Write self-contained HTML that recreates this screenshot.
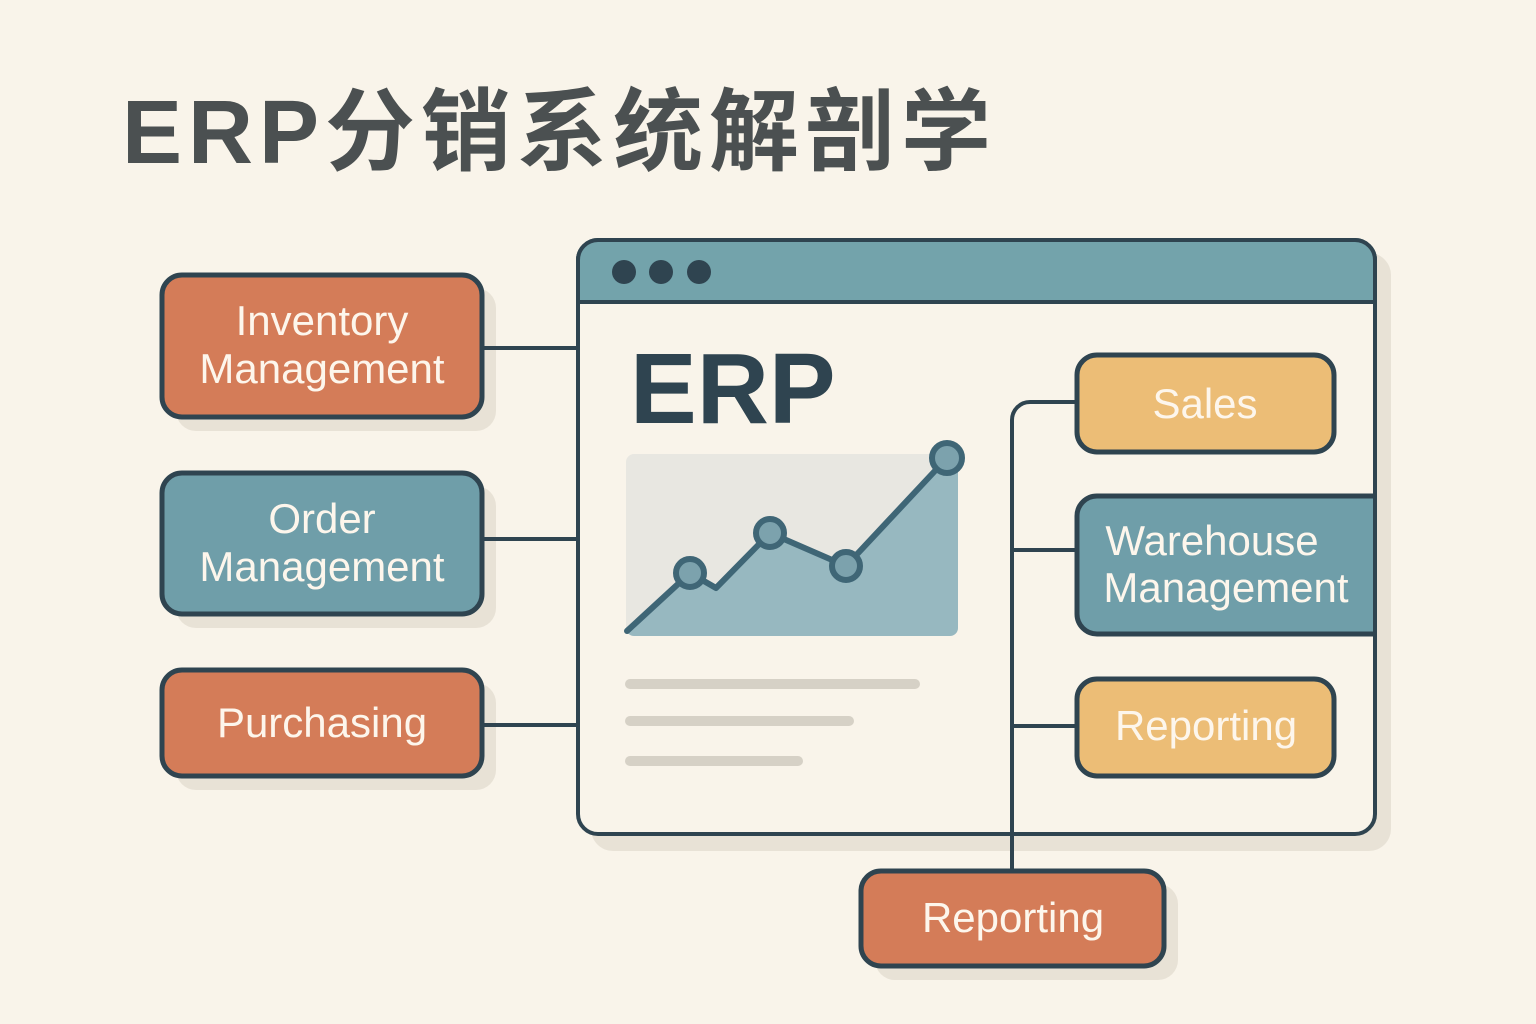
<!DOCTYPE html>
<html><head><meta charset="utf-8"><style>
html,body{margin:0;padding:0;background:#f9f4ea;}
svg{display:block}
text{font-family:"Liberation Sans","Noto Sans CJK SC",sans-serif;}
</style></head><body>
<svg width="1536" height="1024" viewBox="0 0 1536 1024">
<rect width="1536" height="1024" fill="#f9f4ea"/>
<text x="122" y="163" font-size="90" font-weight="bold" fill="#4b5051" letter-spacing="6" style='font-family:"Liberation Sans","Noto Sans CJK SC",sans-serif'>ERP分销系统解剖学</text>
<g fill="#e8e2d6">
<rect x="591" y="253" width="800" height="598" rx="22"/>
<rect x="176" y="288" width="320" height="143" rx="20"/>
<rect x="176" y="486" width="320" height="142" rx="20"/>
<rect x="176" y="683" width="320" height="107" rx="20"/>
<rect x="875" y="884" width="303" height="96" rx="20"/>
</g>
<g stroke="#2f4450" stroke-width="4" fill="none">
<line x1="482" y1="348" x2="577" y2="348"/>
<line x1="482" y1="539" x2="577" y2="539"/>
<line x1="482" y1="725" x2="577" y2="725"/>
</g>
<rect x="578" y="240" width="797" height="594" rx="20" fill="#f9f4ea" stroke="#2f4450" stroke-width="4"/>
<path d="M578 302 V260 a20 20 0 0 1 20 -20 H1355 a20 20 0 0 1 20 20 V302 Z" fill="#73a3ab" stroke="#2f4450" stroke-width="4"/>
<circle cx="624" cy="272" r="12" fill="#2f4450"/>
<circle cx="661" cy="272" r="12" fill="#2f4450"/>
<circle cx="699" cy="272" r="12" fill="#2f4450"/>
<text x="630" y="423" font-size="100" font-weight="bold" fill="#2f4450">ERP</text>
<rect x="626" y="454" width="332" height="182" rx="8" fill="#e8e7e1"/>
<path d="M627 631 L690 573 L716 588 L770 533 L846 566 L947 458 L958 458 L958 628 a8 8 0 0 1 -8 8 H634 a8 8 0 0 1 -8 -8 Z" fill="#97b8c0"/>
<polyline points="627,631 690,573 716,588 770,533 846,566 947,458" fill="none" stroke="#3f6676" stroke-width="6" stroke-linejoin="round" stroke-linecap="round"/>
<g fill="#7ca2ad" stroke="#3f6676" stroke-width="6">
<circle cx="690" cy="573" r="14"/><circle cx="770" cy="533" r="14"/><circle cx="846" cy="566" r="14"/><circle cx="947" cy="458" r="15"/>
</g>
<g stroke="#d6d1c6" stroke-width="10" stroke-linecap="round">
<line x1="630" y1="684" x2="915" y2="684"/>
<line x1="630" y1="721" x2="849" y2="721"/>
<line x1="630" y1="761" x2="798" y2="761"/>
</g>
<g stroke="#2f4450" stroke-width="4" fill="none">
<path d="M1077 402 H1030 a18 18 0 0 0 -18 18 V872"/>
<line x1="1012" y1="550" x2="1077" y2="550"/>
<line x1="1012" y1="726" x2="1077" y2="726"/>
</g>
<g stroke="#2f4450" stroke-width="5">
<rect x="162" y="275" width="320" height="142" rx="20" fill="#d47c58"/>
<rect x="162" y="473" width="320" height="141" rx="20" fill="#6f9ea9"/>
<rect x="162" y="670" width="320" height="106" rx="20" fill="#d47c58"/>
<rect x="1077" y="355" width="257" height="97" rx="20" fill="#ecbd76"/>
<path d="M1374 496 H1097 a20 20 0 0 0 -20 20 V614 a20 20 0 0 0 20 20 H1374" fill="#6f9ea9"/>
<rect x="1077" y="679" width="257" height="97" rx="20" fill="#ecbd76"/>
<rect x="861" y="871" width="303" height="95" rx="20" fill="#d47c58"/>
</g>
<line x1="1375" y1="494" x2="1375" y2="636" stroke="#2f4450" stroke-width="4"/>
<g fill="#fdf6ec" font-size="42" text-anchor="middle">
<text x="322" y="335">Inventory</text>
<text x="322" y="383">Management</text>
<text x="322" y="533">Order</text>
<text x="322" y="581">Management</text>
<text x="322" y="737">Purchasing</text>
<text x="1205" y="418">Sales</text>
<text x="1212" y="555">Warehouse</text>
<text x="1226" y="602">Management</text>
<text x="1206" y="740">Reporting</text>
<text x="1013" y="932">Reporting</text>
</g>
</svg>
</body></html>
